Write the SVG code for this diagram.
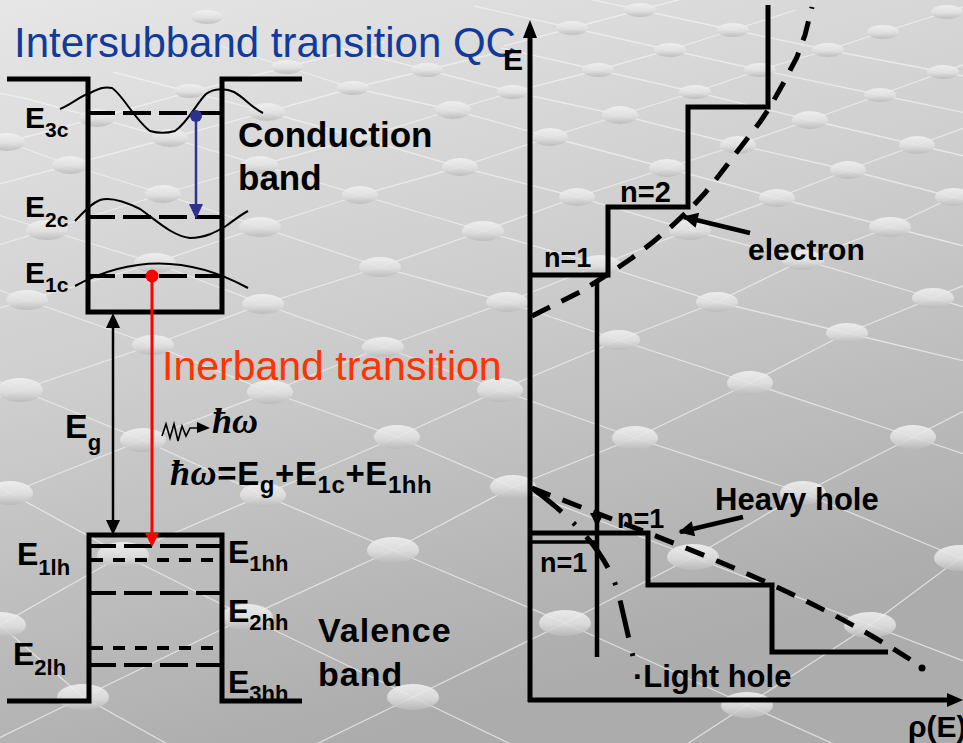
<svg xmlns="http://www.w3.org/2000/svg" width="963" height="743" viewBox="0 0 963 743">
<defs>
  <linearGradient id="bg" x1="0" y1="0" x2="0.35" y2="1">
    <stop offset="0" stop-color="#e6e6e6"/>
    <stop offset="0.5" stop-color="#cdcdcd"/>
    <stop offset="1" stop-color="#acacac"/>
  </linearGradient>
  <linearGradient id="pg" x1="0" y1="0" x2="0" y2="1">
    <stop offset="0" stop-color="#f3f3f3"/>
    <stop offset="0.55" stop-color="#e0e0e0"/>
    <stop offset="1" stop-color="#b9b9b9"/>
  </linearGradient>
  <marker id="ah" viewBox="0 0 10 10" refX="9" refY="5" markerWidth="3.6" markerHeight="3.4" orient="auto">
    <path d="M0,0 L10,5 L0,10 z" fill="#000"/>
  </marker>
  <style>
    .pearl { fill: url(#pg); opacity: 0.85; }
    .grid { fill: none; stroke: #f2f2f2; stroke-width: 1.3; opacity: 0.7; }
    .b { font-family: "Liberation Sans", Arial, sans-serif; font-weight: bold; fill: #000; }
    .h { font-family: "Liberation Serif", "Times New Roman", serif; font-weight: bold; font-style: italic; }
    .wall { fill: none; stroke: #000; stroke-width: 5; stroke-linejoin: miter; }
    .ld { stroke: #000; stroke-width: 4; stroke-dasharray: 28 8; }
    .sd { stroke: #000; stroke-width: 4; stroke-dasharray: 12 10; }
    .wf { fill: none; stroke: #000; stroke-width: 2; }
    .step { fill: none; stroke: #000; stroke-width: 5; }
    .dash { fill: none; stroke: #000; stroke-width: 5; stroke-dasharray: 20 13; stroke-linejoin: round; }
  </style>
</defs>

<!-- background -->
<rect x="0" y="0" width="963" height="743" fill="url(#bg)"/>
<g id="lattice">
  <polyline class="grid" points="501,48 598,70 695,92 810,120 917,145 1024,170"/>
  <polyline class="grid" points="341,48 427,70 513,92 620,115 738,145 848,170 953,197 1060,224"/>
  <polyline class="grid" points="221,46 287,67 353,88 453,110 550,137 667,168 777,198 890,227 1003,256"/>
  <polyline class="grid" points="113,72 190,92 267,112 360,138 460,167 577,197 690,230 803,260 933,298 1063,336"/>
  <polyline class="grid" points="-50,84 24,98 97,118 170,138 260,165 360,195 483,231 600,265 717,302 847,333 977,364"/>
  <polyline class="grid" points="-56,119 7,142 70,165 163,194 260,227 380,267 507,302 619,340 750,383 913,437 1076,491"/>
  <polyline class="grid" points="-61,197 47,230 155,263 263,304 383,347 500,390 635,438 803,493 960,558 1117,623"/>
  <polyline class="grid" points="-99,255 27,300 153,345 270,392 397,437 513,487 693,557 870,625 1047,693"/>
  <polyline class="grid" points="-103,340 20,390 143,440 263,495 393,550 565,623 747,705 929,787"/>
  <polyline class="grid" points="-103,431 10,493 123,555 247,617 413,697 579,777"/>
  <polyline class="grid" points="-83,553 0,625 83,697 250,790"/>
  <polyline class="grid" points="474,6 572,28 670,50 760,70 880,95 1000,120"/>
  <polyline class="grid" points="547,-10 640,10 733,30 828,50 943,72 1058,94"/>
  <polyline class="grid" points="-83,166 7,142 97,118 190,92 287,67 384,42"/>
  <polyline class="grid" points="-30,192 70,165 170,138 267,112 353,88 427,70 501,52"/>
  <polyline class="grid" points="-69,266 47,230 163,194 260,165 360,138 453,110 513,92 598,70 670,50 733,30 796,10"/>
  <polyline class="grid" points="-101,337 27,300 155,263 260,227 360,195 460,167 550,137 620,115 695,92 760,70 828,50 883,32 947,12 1011,-8"/>
  <polyline class="grid" points="-113,435 20,390 153,345 263,304 380,267 483,231 577,197 667,168 738,145 810,120 880,95 943,72 1006,49"/>
  <polyline class="grid" points="-123,546 10,493 143,440 270,392 383,347 507,302 600,265 690,230 777,198 848,170 917,145 986,120"/>
  <polyline class="grid" points="-123,695 0,625 123,555 263,495 397,437 500,390 619,340 717,302 803,260 890,227 953,197 1016,167"/>
  <polyline class="grid" points="-81,777 83,697 247,617 393,550 513,487 635,438 750,383 847,333 933,298 1019,263"/>
  <polyline class="grid" points="261,771 413,697 565,623 693,557 803,493 913,437 1023,381"/>
  <polyline class="grid" points="624,785 747,705 870,625 960,558 1050,491"/>
  <polyline class="grid" points="504,46 572,28 640,10 708,-8"/>
</g>
<g id="pearls">
  <ellipse class="pearl" cx="207" cy="17" rx="16" ry="7"/>
  <ellipse class="pearl" cx="287" cy="67" rx="16" ry="7"/>
  <ellipse class="pearl" cx="427" cy="70" rx="16" ry="7"/>
  <ellipse class="pearl" cx="190" cy="91" rx="16" ry="7"/>
  <ellipse class="pearl" cx="353" cy="88" rx="16" ry="7"/>
  <ellipse class="pearl" cx="453" cy="110" rx="18" ry="9"/>
  <ellipse class="pearl" cx="97" cy="118" rx="18" ry="9"/>
  <ellipse class="pearl" cx="267" cy="112" rx="18" ry="9"/>
  <ellipse class="pearl" cx="360" cy="138" rx="18" ry="9"/>
  <ellipse class="pearl" cx="7" cy="142" rx="18" ry="9"/>
  <ellipse class="pearl" cx="170" cy="138" rx="18" ry="9"/>
  <ellipse class="pearl" cx="70" cy="165" rx="18" ry="9"/>
  <ellipse class="pearl" cx="260" cy="165" rx="18" ry="9"/>
  <ellipse class="pearl" cx="460" cy="167" rx="18" ry="9"/>
  <ellipse class="pearl" cx="163" cy="194" rx="18" ry="9"/>
  <ellipse class="pearl" cx="360" cy="195" rx="18" ry="9"/>
  <ellipse class="pearl" cx="47" cy="230" rx="21" ry="10"/>
  <ellipse class="pearl" cx="260" cy="227" rx="21" ry="10"/>
  <ellipse class="pearl" cx="483" cy="231" rx="21" ry="10"/>
  <ellipse class="pearl" cx="155" cy="263" rx="21" ry="10"/>
  <ellipse class="pearl" cx="380" cy="267" rx="21" ry="10"/>
  <ellipse class="pearl" cx="27" cy="300" rx="21" ry="10"/>
  <ellipse class="pearl" cx="263" cy="304" rx="21" ry="10"/>
  <ellipse class="pearl" cx="153" cy="345" rx="21" ry="10"/>
  <ellipse class="pearl" cx="383" cy="347" rx="21" ry="10"/>
  <ellipse class="pearl" cx="20" cy="390" rx="23" ry="12"/>
  <ellipse class="pearl" cx="270" cy="392" rx="23" ry="12"/>
  <ellipse class="pearl" cx="500" cy="390" rx="23" ry="12"/>
  <ellipse class="pearl" cx="143" cy="440" rx="23" ry="12"/>
  <ellipse class="pearl" cx="397" cy="437" rx="23" ry="12"/>
  <ellipse class="pearl" cx="10" cy="493" rx="23" ry="12"/>
  <ellipse class="pearl" cx="263" cy="495" rx="23" ry="12"/>
  <ellipse class="pearl" cx="513" cy="487" rx="23" ry="12"/>
  <ellipse class="pearl" cx="123" cy="555" rx="26" ry="13"/>
  <ellipse class="pearl" cx="393" cy="550" rx="26" ry="13"/>
  <ellipse class="pearl" cx="247" cy="617" rx="26" ry="13"/>
  <ellipse class="pearl" cx="0" cy="625" rx="26" ry="13"/>
  <ellipse class="pearl" cx="83" cy="697" rx="26" ry="13"/>
  <ellipse class="pearl" cx="413" cy="697" rx="26" ry="13"/>
  <ellipse class="pearl" cx="640" cy="10" rx="16" ry="7"/>
  <ellipse class="pearl" cx="947" cy="12" rx="16" ry="7"/>
  <ellipse class="pearl" cx="572" cy="28" rx="16" ry="7"/>
  <ellipse class="pearl" cx="733" cy="30" rx="16" ry="7"/>
  <ellipse class="pearl" cx="883" cy="32" rx="16" ry="7"/>
  <ellipse class="pearl" cx="670" cy="50" rx="16" ry="7"/>
  <ellipse class="pearl" cx="828" cy="50" rx="16" ry="7"/>
  <ellipse class="pearl" cx="598" cy="70" rx="16" ry="7"/>
  <ellipse class="pearl" cx="760" cy="70" rx="16" ry="7"/>
  <ellipse class="pearl" cx="943" cy="72" rx="16" ry="7"/>
  <ellipse class="pearl" cx="513" cy="92" rx="16" ry="7"/>
  <ellipse class="pearl" cx="695" cy="92" rx="16" ry="7"/>
  <ellipse class="pearl" cx="880" cy="95" rx="16" ry="7"/>
  <ellipse class="pearl" cx="620" cy="115" rx="18" ry="9"/>
  <ellipse class="pearl" cx="810" cy="120" rx="18" ry="9"/>
  <ellipse class="pearl" cx="550" cy="137" rx="18" ry="9"/>
  <ellipse class="pearl" cx="738" cy="145" rx="18" ry="9"/>
  <ellipse class="pearl" cx="917" cy="145" rx="18" ry="9"/>
  <ellipse class="pearl" cx="667" cy="168" rx="18" ry="9"/>
  <ellipse class="pearl" cx="848" cy="170" rx="18" ry="9"/>
  <ellipse class="pearl" cx="577" cy="197" rx="18" ry="9"/>
  <ellipse class="pearl" cx="777" cy="198" rx="18" ry="9"/>
  <ellipse class="pearl" cx="953" cy="197" rx="18" ry="9"/>
  <ellipse class="pearl" cx="690" cy="230" rx="21" ry="10"/>
  <ellipse class="pearl" cx="890" cy="227" rx="21" ry="10"/>
  <ellipse class="pearl" cx="600" cy="265" rx="21" ry="10"/>
  <ellipse class="pearl" cx="803" cy="260" rx="21" ry="10"/>
  <ellipse class="pearl" cx="507" cy="302" rx="21" ry="10"/>
  <ellipse class="pearl" cx="717" cy="302" rx="21" ry="10"/>
  <ellipse class="pearl" cx="933" cy="298" rx="21" ry="10"/>
  <ellipse class="pearl" cx="619" cy="340" rx="21" ry="10"/>
  <ellipse class="pearl" cx="847" cy="333" rx="21" ry="10"/>
  <ellipse class="pearl" cx="750" cy="383" rx="23" ry="12"/>
  <ellipse class="pearl" cx="635" cy="438" rx="23" ry="12"/>
  <ellipse class="pearl" cx="913" cy="437" rx="23" ry="12"/>
  <ellipse class="pearl" cx="803" cy="493" rx="23" ry="12"/>
  <ellipse class="pearl" cx="693" cy="557" rx="26" ry="13"/>
  <ellipse class="pearl" cx="960" cy="558" rx="26" ry="13"/>
  <ellipse class="pearl" cx="565" cy="623" rx="26" ry="13"/>
  <ellipse class="pearl" cx="870" cy="625" rx="26" ry="13"/>
  <ellipse class="pearl" cx="747" cy="705" rx="26" ry="13"/>
</g>

<!-- titles -->
<text id="title-qc" x="14" y="57" font-family="Liberation Sans, Arial, sans-serif" font-size="42" fill="#103a9c">Intersubband transition QC</text>
<text id="title-inter" x="162" y="380" font-family="Liberation Sans, Arial, sans-serif" font-size="41" fill="#ff3300">Inerband transition</text>

<!-- conduction band well -->
<g id="conduction-well">
  <path class="wall" d="M7,79 H88 V312 H222 V79 H302"/>
  <line class="ld" x1="90" y1="113" x2="220" y2="113" stroke-dashoffset="3"/>
  <line class="ld" x1="90" y1="217" x2="220" y2="217" stroke-dashoffset="3"/>
  <line class="ld" x1="90" y1="276" x2="220" y2="276" stroke-dashoffset="3"/>
  <path class="wf" d="M60,109 C72,104 80,96 90,93 C98,89 104,86 112,88 C122,94 135,120 150,131 C160,134 168,133 175,131 C188,122 196,104 206,94 C214,88 226,88 234,92 C245,98 252,108 263,113"/>
  <path class="wf" d="M75,221 C84,212 90,204 100,200 C110,197 124,201 140,209 C156,220 172,236 190,238 C205,238 216,232 226,226 C234,220 242,214 248,211"/>
  <path class="wf" d="M75,286 Q160,240 248,288"/>
  <text class="b" x="25" y="128" font-size="30">E<tspan font-size="21" dy="9">3c</tspan></text>
  <text class="b" x="25" y="217" font-size="30">E<tspan font-size="21" dy="10">2c</tspan></text>
  <text class="b" x="25" y="283" font-size="30">E<tspan font-size="21" dy="9">1c</tspan></text>
  <text class="b" x="238" y="147" font-size="35">Conduction</text>
  <text class="b" x="238" y="190" font-size="35">band</text>
</g>

<!-- valence band well -->
<g id="valence-well">
  <text class="b" x="228" y="693" font-size="32">E<tspan font-size="22" dy="8">3hh</tspan></text>
  <path class="wall" d="M7,701 H89 V535 H222 V701 H302"/>
  <line class="ld" x1="91" y1="546" x2="220" y2="546" stroke-dashoffset="3"/>
  <line class="sd" x1="91" y1="560" x2="220" y2="560"/>
  <line class="ld" x1="91" y1="593" x2="220" y2="593" stroke-dashoffset="3"/>
  <line class="sd" x1="91" y1="648" x2="220" y2="648" stroke-dasharray="14 9"/>
  <line class="ld" x1="91" y1="665" x2="220" y2="665" stroke-dashoffset="3"/>
  <text class="b" x="17" y="565" font-size="32">E<tspan font-size="22" dy="10">1lh</tspan></text>
  <text class="b" x="13" y="665" font-size="32">E<tspan font-size="22" dy="10">2lh</tspan></text>
  <text class="b" x="228" y="563" font-size="32">E<tspan font-size="22" dy="8">1hh</tspan></text>
  <text class="b" x="228" y="622" font-size="32">E<tspan font-size="22" dy="8">2hh</tspan></text>
  <text class="b" x="318" y="642" font-size="34" letter-spacing="1">Valence</text>
  <text class="b" x="318" y="686" font-size="34" letter-spacing="1">band</text>
</g>

<!-- transitions and gap -->
<g id="transitions">
  <line x1="196" y1="116" x2="196" y2="206" stroke="#2e3192" stroke-width="2.5"/>
  <circle cx="196" cy="116" r="6" fill="#2e3192"/>
  <polygon points="189,204 203,204 196,219" fill="#2e3192"/>
  <line x1="152" y1="276" x2="152" y2="536" stroke="#ff0000" stroke-width="3"/>
  <circle cx="152" cy="276" r="6.5" fill="#ff0000"/>
  <polygon points="145,533 159,533 152,547" fill="#ff0000"/>
  <line x1="113" y1="322" x2="113" y2="526" stroke="#000" stroke-width="2.5"/>
  <polygon points="106,328 120,328 113,313" fill="#000"/>
  <polygon points="106,520 120,520 113,535" fill="#000"/>
  <text class="b" x="65" y="438" font-size="34">E<tspan font-size="22" dy="12">g</tspan></text>
  <path d="M162,436 L166,424 L170,438 L174,424 L178,441 L182,426 L186,436 L190,428 L198,428" fill="none" stroke="#000" stroke-width="1.6"/>
  <polygon points="197,422 210,428 197,433" fill="#000"/>
  <text class="h" x="212" y="433" font-size="36">ħω</text>
  <text class="b" x="170" y="485" font-size="33" letter-spacing="0.6"><tspan class="h" font-size="36">ħω</tspan>=E<tspan font-size="24" dy="8">g</tspan><tspan dy="-8">+E</tspan><tspan font-size="24" dy="8">1c</tspan><tspan dy="-8">+E</tspan><tspan font-size="24" dy="8">1hh</tspan></text>
</g>

<!-- density of states panel -->
<g id="axes">
  <line x1="530" y1="34" x2="530" y2="702" stroke="#000" stroke-width="5"/>
  <polygon points="523,38 537,38 530,20" fill="#000"/>
  <line x1="528" y1="700" x2="950" y2="700" stroke="#000" stroke-width="5"/>
  <polygon points="947,693 947,707 963,700" fill="#000"/>
  <text class="b" x="503" y="70" font-size="30">E</text>
  <text class="b" x="908" y="737" font-size="30">ρ(E)</text>
</g>

<g id="electron-dos">
  <path class="step" d="M530,275 H608 V207 H688 V107 H768 V5"/>
  <path class="dash" d="M532,316 L556,304 L580,292 L610,273 L632,258 L653,242 L673,225 L692,207 L705,193 L717,178 L740,148 L760,122 L770,107 L784,82 L797,57 L805,35 L812,7"/>
  <text class="b" x="544" y="267" font-size="27">n=1</text>
  <text class="b" x="620" y="202" font-size="29">n=2</text>
  <text class="b" x="748" y="260" font-size="30">electron</text>
</g>

<g id="hole-dos">
  <path class="step" d="M530,533 H648 V585 H772 V652 H888"/>
  <line x1="530" y1="542" x2="597" y2="542" stroke="#000" stroke-width="3.5"/>
  <line x1="597" y1="280" x2="597" y2="657" stroke="#000" stroke-width="4.5"/>
  <polygon points="590,513 604,513 597,527" fill="#000"/>
  <path class="dash" d="M532,488 C650,535 800,585 920,666"/>
  <circle cx="922" cy="668" r="3.5" fill="#000"/>
  <path d="M532,488 C575,520 610,555 620,600 S632,650 635,667" fill="none" stroke="#000" stroke-width="5" stroke-dasharray="38 16 3 16"/>
  <text class="b" x="617" y="528" font-size="27">n=1</text>
  <text class="b" x="540" y="572" font-size="27">n=1</text>
  <text class="b" x="715" y="510" font-size="31">Heavy hole</text>
  <text class="b" x="633" y="687" font-size="31">·Light hole</text>
</g>

<g id="connectors">
  <line x1="750" y1="233" x2="684" y2="217" stroke="#000" stroke-width="4.5" marker-end="url(#ah)"/>
  <line x1="743" y1="517" x2="680" y2="532" stroke="#000" stroke-width="4.5" marker-end="url(#ah)"/>
</g>
</svg>
